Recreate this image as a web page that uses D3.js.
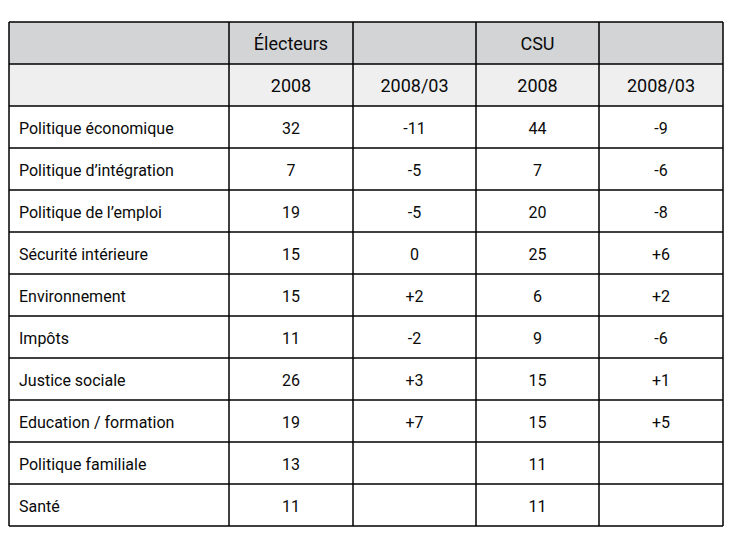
<!DOCTYPE html>
<html>
<head>
<meta charset="utf-8">
<script src="https://cdn.jsdelivr.net/npm/d3@7"></script>
<style>
  html, body { margin: 0; padding: 0; background: #fff; }
  svg text { font-family: Roboto, "Noto Sans", sans-serif; }
</style>
</head>
<body>
<div id="chart"></div>
<script>
// Table values
const groups = ["", "Électeurs", "", "CSU", ""];
const periods = ["", "2008", "2008/03", "2008", "2008/03"];
const categories = [
  "Politique économique", "Politique d’intégration", "Politique de l’emploi",
  "Sécurité intérieure", "Environnement", "Impôts", "Justice sociale",
  "Education / formation", "Politique familiale", "Santé",
];
const electeurs2008 = [32, 7, 19, 15, 15, 11, 26, 19, 13, 11];
const electeursDiff = ["-11", "-5", "-5", "0", "+2", "-2", "+3", "+7", "", ""];
const csu2008 = [44, 7, 20, 25, 6, 9, 15, 15, 11, 11];
const csuDiff = ["-9", "-6", "-8", "+6", "+2", "-6", "+1", "+5", "", ""];

const width = 743, height = 534;
const TABLE_TOP = 22, TABLE_BOTTOM = 526;
// column edges (px) – first column is the wide label column
const COL_EDGES = [9, 229, 353, 476, 599, 723];

const rows = [
  { key: "h1", cells: groups, fill: "#d3d4d6", size: 18 },
  { key: "h2", cells: periods, fill: "#efefef", size: 18 },
  ...categories.map((c, i) => ({
    key: "r" + i,
    cells: [c, String(electeurs2008[i]), electeursDiff[i], String(csu2008[i]), csuDiff[i]],
    fill: "#ffffff",
    size: 16,
  })),
];

const y = d3.scaleBand().domain(rows.map(r => r.key)).range([TABLE_TOP, TABLE_BOTTOM]);

const svg = d3.select("#chart").append("svg")
  .attr("width", width)
  .attr("height", height)
  .attr("viewBox", [0, 0, width, height]);

// row backgrounds
svg.append("g").selectAll("rect")
  .data(rows)
  .join("rect")
  .attr("x", COL_EDGES[0])
  .attr("y", d => y(d.key))
  .attr("width", COL_EDGES[COL_EDGES.length - 1] - COL_EDGES[0])
  .attr("height", y.bandwidth())
  .attr("fill", d => d.fill);

// cell text
const rowG = svg.append("g").selectAll("g")
  .data(rows)
  .join("g")
  .attr("transform", d => `translate(0,${y(d.key) + y.bandwidth() / 2 + 1})`);

rowG.selectAll("text")
  .data(d => d.cells.map((v, j) => ({ v, j, size: d.size })))
  .join("text")
  .attr("x", d => d.j === 0 ? COL_EDGES[0] + 10 : (COL_EDGES[d.j] + COL_EDGES[d.j + 1]) / 2)
  .attr("dy", "0.36em")
  .attr("text-anchor", d => d.j === 0 ? "start" : "middle")
  .attr("font-size", d => d.size + "px")
  .attr("fill", "#0a0a0a")
  .text(d => d.v);

// grid lines
const grid = svg.append("g").attr("stroke", "#000").attr("stroke-width", 1.5);
const hLines = rows.map(r => y(r.key)).concat([TABLE_BOTTOM]);
grid.selectAll("line.h")
  .data(hLines)
  .join("line")
  .attr("class", "h")
  .attr("x1", COL_EDGES[0]).attr("x2", COL_EDGES[COL_EDGES.length - 1])
  .attr("y1", d => d).attr("y2", d => d);
grid.selectAll("line.v")
  .data(COL_EDGES)
  .join("line")
  .attr("class", "v")
  .attr("x1", d => d).attr("x2", d => d)
  .attr("y1", TABLE_TOP).attr("y2", TABLE_BOTTOM);
</script>
</body>
</html>
